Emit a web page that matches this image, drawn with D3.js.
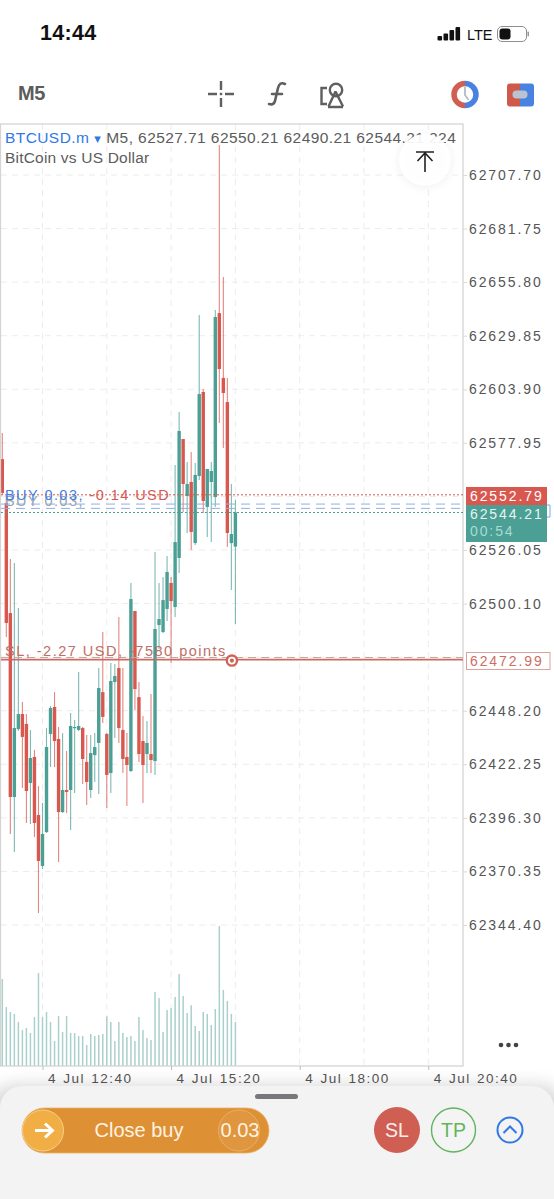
<!DOCTYPE html>
<html>
<head>
<meta charset="utf-8">
<script src="https://cdn.jsdelivr.net/npm/d3@7"></script>
<style>
html,body{margin:0;padding:0;background:#fff;overflow:hidden}
svg{display:block}
text{font-family:"Liberation Sans",Arial,sans-serif}
.num{letter-spacing:1.9px}
</style>
</head>
<body>
<div id="chart"></div>
<script>
// BTCUSD.m M5 candles, oldest first
const highs = [62582.7,62552.7,62521.7,62519.8,62497.9,62452.4,62446.6,62438.9,62429.2,62411.7,62403.5,62439.8,62450.5,62457.2,62440.3,62437.4,62428.7,62447.1,62443.7,62467.0,62440.3,62436.4,62436.4,62437.4,62468.9,62486.3,62437.4,62471.3,62470.8,62493.6,62468.9,62437.4,62510.1,62496.5,62462.1,62445.6,62443.2,62456.3,62525.1,62510.1,62513.0,62523.1,62513.0,62567.2,62592.9,62579.8,62568.7,62573.5,62568.2,62639.9,62604.0,62565.3,62568.7,62642.3,62722.2,62658.3,62609.4,62558.0,62550.21];
const lows = [62552.7,62483.9,62388.5,62379.8,62438.4,62410.8,62393.8,62393.3,62387.0,62350.2,62371.5,62389.0,62420.9,62420.9,62374.9,62398.6,62398.6,62390.4,62408.3,62438.4,62412.7,62402.5,62405.9,62413.7,62407.9,62442.3,62401.1,62408.3,62435.0,62432.6,62418.0,62402.0,62418.5,62448.5,62423.4,62403.5,62418.0,62418.0,62417.1,62478.1,62485.8,62491.6,62471.3,62493.6,62514.9,62544.5,62534.3,62526.0,62528.5,62560.0,62544.0,62532.4,62529.9,62546.9,62587.6,62575.5,62527.5,62506.7,62490.21];
const opens = [62570.1,62548.8,62495.5,62406.4,62439.3,62446.6,62441.8,62413.2,62425.8,62397.7,62373.0,62389.4,62436.9,62450.0,62434.5,62399.1,62409.8,62409.8,62439.8,62438.9,62439.8,62423.4,62409.8,62426.7,62432.6,62457.2,62436.9,62418.0,62462.1,62468.9,62438.9,62425.8,62419.0,62496.5,62454.8,62433.5,62427.2,62427.2,62423.8,62489.7,62486.3,62497.5,62510.1,62498.4,62522.2,62579.8,62552.2,62559.0,62529.4,62561.9,62602.6,62546.9,62559.0,62551.7,62640.8,62609.4,62597.7,62529.4,62527.71];
const closes = [62553.7,62490.7,62406.4,62439.8,62446.6,62435.5,62409.3,62425.3,62393.8,62375.4,62388.5,62430.6,62449.5,62433.5,62399.1,62409.8,62408.8,62440.8,62440.3,62440.8,62424.8,62413.7,62427.7,62430.6,62459.2,62445.2,62417.1,62462.6,62465.0,62439.8,62424.8,62421.9,62502.3,62458.7,62427.2,62421.9,62432.6,62424.3,62487.8,62492.6,62501.8,62515.4,62501.3,62529.9,62583.7,62558.0,62558.0,62534.8,62562.4,62601.6,62549.8,62565.3,62564.3,62638.9,62613.7,62602.1,62534.3,62533.8,62544.21];
const tickVolumes = [443,300,275,265,224,183,193,168,249,473,249,275,224,127,254,173,254,168,168,153,153,107,163,153,158,163,254,224,127,224,168,148,153,127,249,183,143,132,377,346,173,285,295,351,468,356,270,310,204,178,275,265,209,290,713,387,331,265,224];

const priceTicks = [62707.70,62681.75,62655.80,62629.85,62603.90,62577.95,62552.00,62526.05,62500.10,62474.15,62448.20,62422.25,62396.30,62370.35,62344.40];
const hiddenPriceTicks = [62552.00,62474.15];
const timeLabels = ["2024-07-04T12:40","2024-07-04T15:20","2024-07-04T18:00","2024-07-04T20:40"];
const gridTimes = ["2024-07-04T12:40","2024-07-04T14:00","2024-07-04T15:20","2024-07-04T16:40","2024-07-04T18:00","2024-07-04T19:20","2024-07-04T20:40"];
const firstBar = "2024-07-04T11:50";
const lastSlot = "2024-07-04T20:40";

const askPrice = 62552.79, bidPrice = 62544.21, stopPrice = 62472.99;
const entryPrices = [62548.3, 62546.2];

const W = 554, H = 1199;
const frame = {left: 1, right: 463, top: 124, bottom: 1066};
const RED = "#d8584f", GREEN = "#4b9f94";

const parse = d3.isoParse;
const minutes = 5 * 60000;
const barTime = i => new Date(+parse(firstBar) + i * minutes);

const x = d3.scaleTime().domain([parse(firstBar), parse(lastSlot)]).range([2.3, 428.3]);
const y = d3.scaleLinear().domain([62707.70, 62344.40]).range([175, 925]);
const yVol = d3.scaleLinear().domain([0, 713]).range([frame.bottom, 926]);

const svg = d3.select("#chart").append("svg").attr("width", W).attr("height", H).attr("viewBox", `0 0 ${W} ${H}`);
const defs = svg.append("defs");
defs.append("clipPath").attr("id", "plot").append("rect")
  .attr("x", frame.left).attr("y", frame.top)
  .attr("width", frame.right - frame.left).attr("height", frame.bottom - frame.top);
const soft = defs.append("filter").attr("id", "soft").attr("x", "-20%").attr("y", "-40%").attr("width", "140%").attr("height", "180%");
soft.append("feGaussianBlur").attr("stdDeviation", 9);
const softBtn = defs.append("filter").attr("id", "softBtn").attr("x", "-50%").attr("y", "-50%").attr("width", "200%").attr("height", "200%");
softBtn.append("feGaussianBlur").attr("stdDeviation", 5);

// Status bar
svg.append("text").attr("x", 40).attr("y", 40).attr("font-size", 21.5).attr("font-weight", 700).attr("fill", "#111").style("letter-spacing", "0.3px").text("14:44");
const signal = svg.append("g").attr("fill", "#111");
[[437.5,36,4.5],[443.5,33.5,7],[449.5,30,10.5],[455.5,27,13.5]].forEach(b =>
  signal.append("rect").attr("x", b[0]).attr("y", b[1]).attr("width", 4.6).attr("height", b[2]).attr("rx", 1));
svg.append("text").attr("x", 467).attr("y", 39.5).attr("font-size", 14.5).attr("fill", "#111").attr("font-family", "Roboto").text("LTE");
svg.append("rect").attr("x", 497.5).attr("y", 26.5).attr("width", 29).attr("height", 15).attr("rx", 4.5).attr("fill", "none").attr("stroke", "#8e8e8e");
svg.append("rect").attr("x", 499.5).attr("y", 28.5).attr("width", 11).attr("height", 11).attr("rx", 3).attr("fill", "#111");
svg.append("rect").attr("x", 527.5).attr("y", 31.5).attr("width", 1.5).attr("height", 5).attr("rx", .7).attr("fill", "#999");

// Toolbar
svg.append("text").attr("x", 18).attr("y", 100).attr("font-size", 20).attr("font-weight", 700).attr("fill", "#5c5c5c").attr("font-family", "Roboto").style("letter-spacing", "-0.3px").text("M5");
const tool = svg.append("g").attr("fill", "none").attr("stroke", "#5f5f5f").attr("stroke-width", 2.4);
tool.append("path").attr("d", "M208 94h9M225 94h9M221 81v9M221 98v9");
tool.append("path").attr("fill", "#5f5f5f").attr("stroke", "none").attr("d", "M219.8 92.8h2.4v2.4h-2.4z");
tool.append("path").attr("stroke-width", 2.6).attr("stroke-linecap", "round").attr("d", "M285 84c-4-2-6 0-7 4l-3 13c-1 3-3 4-6 3M272 94h10");
tool.append("path").attr("d", "M327 88h-5.5v16h5.5");
tool.append("circle").attr("cx", 336).attr("cy", 90).attr("r", 6.2);
tool.append("path").attr("d", "M335.5 94l-7 15M335.5 94l7.5 15M328 109.500h15").attr("transform", "translate(0,-2.5)");
// Clock and account shortcuts
svg.append("path").attr("d", "M465 83.5a11 11 0 0 0 0 22").attr("fill", "none").attr("stroke", "#cf5f50").attr("stroke-width", 5.5);
svg.append("path").attr("d", "M465 83.5a11 11 0 0 1 0 22").attr("fill", "none").attr("stroke", "#4a82e2").attr("stroke-width", 5.5);
svg.append("path").attr("d", "M465 87v8l3.5 5").attr("fill", "none").attr("stroke", "#b8c0cc").attr("stroke-width", 2);
svg.append("path").attr("d", "M507 94.5v-8a3 3 0 0 1 3-3h10v8h-3a3 3 0 0 0 0 6h3v9h-10a3 3 0 0 1-3-3z").attr("fill", "#cf5a4c");
svg.append("path").attr("d", "M520 83.5h11a3 3 0 0 1 3 3v17a3 3 0 0 1-3 3h-11v-9h3a3 3 0 0 0 0-6h-3z").attr("fill", "#4a82e2");
svg.append("rect").attr("x", 512.500).attr("y", 90.5).attr("width", 15).attr("height", 8).attr("rx", 4).attr("fill", "#b9c4d2");

// Grid
const grid = svg.append("g").attr("stroke", "#ececec").attr("stroke-width", 1).attr("stroke-dasharray", "6 5");
grid.selectAll("line.h").data(priceTicks).join("line").attr("class", "h")
  .attr("x1", frame.left).attr("x2", frame.right).attr("y1", d => y(d)).attr("y2", d => y(d));
grid.selectAll("line.v").data(gridTimes).join("line").attr("class", "v")
  .attr("x1", d => x(parse(d))).attr("x2", d => x(parse(d))).attr("y1", frame.top).attr("y2", frame.bottom);

const plot = svg.append("g").attr("clip-path", "url(#plot)");

// Tick volume
plot.append("g").selectAll("line").data(tickVolumes).join("line")
  .attr("x1", (d, i) => x(barTime(i))).attr("x2", (d, i) => x(barTime(i)))
  .attr("y1", yVol(0)).attr("y2", d => yVol(d))
  .attr("stroke", "#a9d0ca").attr("stroke-width", 1.5);

// Candles
const candles = plot.append("g").selectAll("g").data(d3.range(opens.length)).join("g");
candles.append("line")
  .attr("x1", i => x(barTime(i))).attr("x2", i => x(barTime(i)))
  .attr("y1", i => y(highs[i])).attr("y2", i => y(lows[i]))
  .attr("stroke", i => closes[i] >= opens[i] ? GREEN : RED)
  .attr("stroke-width", 1.1).attr("stroke-opacity", .72);
candles.append("rect")
  .attr("x", i => x(barTime(i)) - 1.7).attr("width", 3.4)
  .attr("y", i => y(Math.max(opens[i], closes[i])))
  .attr("height", i => Math.max(1.2, Math.abs(y(opens[i]) - y(closes[i]))))
  .attr("fill", i => closes[i] >= opens[i] ? GREEN : RED);

// Frame and axes
svg.append("rect").attr("x", .5).attr("y", frame.top).attr("width", frame.right - .5).attr("height", frame.bottom - frame.top)
  .attr("fill", "none").attr("stroke", "#d4d4d4").attr("stroke-width", 1.3);

const yAxis = svg.append("g").attr("transform", `translate(${frame.right},0)`)
  .call(d3.axisRight(y).tickValues(priceTicks.filter(v => !hiddenPriceTicks.includes(v))).tickSize(4).tickPadding(2).tickFormat(d3.format(".2f")));
yAxis.select(".domain").remove();
yAxis.selectAll("line").attr("stroke", "#d9d9d9");
yAxis.selectAll("text").attr("class", "num").attr("fill", "#555").attr("font-size", 14).attr("font-family", null);

const xAxis = svg.append("g").attr("transform", `translate(0,${frame.bottom})`)
  .call(d3.axisBottom(x).tickValues(timeLabels.map(parse)).tickSize(4).tickPadding(3).tickFormat(d3.timeFormat("%-d %b %H:%M")));
xAxis.select(".domain").remove();
xAxis.selectAll("line").attr("stroke", "#bdbdbd");
xAxis.selectAll("text").attr("text-anchor", "start").attr("dx", 5).attr("fill", "#555").attr("font-size", 13.5).attr("font-family", null).style("letter-spacing", "1.5px").style("word-spacing", "1px");

// Price levels
const level = (v, color, dash, w) => svg.append("line").attr("x1", frame.left).attr("x2", frame.right)
  .attr("y1", y(v)).attr("y2", y(v)).attr("stroke", color).attr("stroke-width", w || 1).attr("stroke-dasharray", dash);
level(askPrice, RED, "2 2");
entryPrices.forEach(v => level(v, "#8fb0e6", "9 6"));
level(bidPrice, GREEN, "2 2");
svg.append("line").attr("x1", frame.left).attr("x2", frame.right).attr("y1", y(stopPrice) - 2).attr("y2", y(stopPrice) - 2)
  .attr("stroke", "#c5a6a2").attr("stroke-dasharray", "8 5");
level(stopPrice, "#cc6a60", "none", 1.7);

// Position captions
svg.append("text").attr("x", 5).attr("y", 506).attr("font-size", 14.5).attr("fill", "#9aa3ae").style("letter-spacing", "1.45px").text("BUY 0.03,");
const pos = svg.append("text").attr("x", 5).attr("y", 500).attr("font-size", 14.5).style("letter-spacing", "1.45px");
pos.append("tspan").attr("fill", "#3f7fe3").text("BUY 0.03,");
pos.append("tspan").attr("fill", "#d8584f").text(" -0.14 USD");
svg.append("text").attr("x", 5).attr("y", 656).attr("font-size", 14.5).attr("fill", "#bd6f68").style("letter-spacing", "1.5px").text("SL, -2.27 USD, -7580 points");

// Stop-loss handle
const slx = x(barTime(58));
svg.append("circle").attr("cx", slx - 3.5).attr("cy", y(stopPrice) + 1).attr("r", 6.3).attr("fill", "#cf6256");
svg.append("circle").attr("cx", slx - 3.5).attr("cy", y(stopPrice) + 1).attr("r", 3.9).attr("fill", "#fff");
svg.append("circle").attr("cx", slx - 3.5).attr("cy", y(stopPrice) + 1).attr("r", 2.1).attr("fill", "#cf6256");

// Current price tags
svg.append("path").attr("d", "M547 505h3v12h-3").attr("fill", "none").attr("stroke", "#7ea6e6");
svg.append("rect").attr("x", 466).attr("y", 487).attr("width", 81).attr("height", 18).attr("fill", RED);
svg.append("rect").attr("x", 466).attr("y", 505).attr("width", 81).attr("height", 37).attr("fill", GREEN);
svg.append("text").attr("class", "num").attr("x", 470).attr("y", 500.5).attr("font-size", 14).attr("fill", "#fff").text(d3.format(".2f")(askPrice));
svg.append("text").attr("class", "num").attr("x", 470).attr("y", 518.5).attr("font-size", 14).attr("fill", "#e6f4f1").text(d3.format(".2f")(bidPrice));
svg.append("text").attr("class", "num").attr("x", 470).attr("y", 536).attr("font-size", 14).attr("fill", "#a8dcd2").text("00:54");
svg.append("rect").attr("x", 466.5).attr("y", 652.5).attr("width", 83.5).attr("height", 17).attr("fill", "#fff").attr("stroke", "#dba39c");
svg.append("text").attr("class", "num").attr("x", 470).attr("y", 666).attr("font-size", 14).attr("fill", "#cb6d63").text(d3.format(".2f")(stopPrice));

// Symbol header
const head = svg.append("text").attr("x", 5).attr("y", 143).attr("font-size", 15.5).attr("fill", "#5c5c5c").style("letter-spacing", "0.42px");
head.append("tspan").attr("fill", "#2f78e6").text("BTCUSD.m");
head.append("tspan").attr("fill", "#2f78e6").attr("font-size", 8.5).attr("dx", 5).attr("dy", -1.5).attr("font-family", "DejaVu Sans").text("▼");
head.append("tspan").attr("dx", 5).attr("dy", 1.5).text(`M5, ${opens[58]} ${highs[58]} ${lows[58]} ${closes[58]} ${tickVolumes[58]}`);
svg.append("text").attr("x", 5).attr("y", 163).attr("font-size", 15.5).attr("fill", "#5c5c5c").style("letter-spacing", "0.2px").text("BitCoin vs US Dollar");

// Jump-to-latest button
svg.append("circle").attr("cx", 425).attr("cy", 161).attr("r", 27).attr("fill", "#000").attr("opacity", .05).attr("filter", "url(#softBtn)");
svg.append("circle").attr("cx", 425).attr("cy", 160).attr("r", 26).attr("fill", "#fff").attr("opacity", .92);
svg.append("path").attr("d", "M416 152h18M425 172v-19M417.5 161l7.5-8 7.5 8").attr("fill", "none").attr("stroke", "#222").attr("stroke-width", 1.6);

// Overflow menu
[501, 508.5, 516].forEach(cx => svg.append("circle").attr("cx", cx).attr("cy", 1045).attr("r", 2.3).attr("fill", "#444"));

// Bottom sheet
svg.append("rect").attr("x", -10).attr("y", 1085).attr("width", W + 20).attr("height", 140).attr("rx", 24).attr("fill", "#000").attr("opacity", .16).attr("filter", "url(#soft)");
svg.append("rect").attr("x", 0).attr("y", 1086).attr("width", W).attr("height", 140).attr("rx", 22).attr("fill", "#f3f3f3");
svg.append("rect").attr("x", 255).attr("y", 1094).attr("width", 43).attr("height", 5).attr("rx", 2.5).attr("fill", "#77787b");

svg.append("rect").attr("x", 22).attr("y", 1108).attr("width", 247).attr("height", 45).attr("rx", 22.5).attr("fill", "#de9034").attr("stroke", "#eab060").attr("stroke-width", .8);
svg.append("circle").attr("cx", 43).attr("cy", 1130.5).attr("r", 20.5).attr("fill", "#f0ae45").attr("stroke", "#f7d08e");
svg.append("path").attr("d", "M35 1130.5h17M45 1123.5l7.5 7-7.5 7").attr("fill", "none").attr("stroke", "#fff").attr("stroke-width", 3);
svg.append("text").attr("x", 139).attr("y", 1137).attr("text-anchor", "middle").attr("font-size", 20).attr("fill", "#fdf3e3").text("Close buy");
svg.append("circle").attr("cx", 239).attr("cy", 1130.5).attr("r", 20.5).attr("fill", "#e0963e").attr("stroke", "#eaae68");
svg.append("text").attr("x", 240).attr("y", 1137).attr("text-anchor", "middle").attr("font-size", 20).attr("fill", "#fdf3e3").text("0.03");

svg.append("circle").attr("cx", 397).attr("cy", 1130).attr("r", 23).attr("fill", "#cf5f53");
svg.append("text").attr("x", 397).attr("y", 1137).attr("text-anchor", "middle").attr("font-size", 19.5).attr("fill", "#fdeeea").text("SL");
svg.append("circle").attr("cx", 453.5).attr("cy", 1130).attr("r", 22).attr("fill", "#f4f4f4").attr("stroke", "#62b45f").attr("stroke-width", 1.4);
svg.append("text").attr("x", 453.5).attr("y", 1137).attr("text-anchor", "middle").attr("font-size", 19.5).attr("fill", "#62b45f").text("TP");
svg.append("circle").attr("cx", 510).attr("cy", 1130).attr("r", 12.5).attr("fill", "none").attr("stroke", "#2f78e6").attr("stroke-width", 2);
svg.append("path").attr("d", "M503.5 1133l6.5-6.5 6.5 6.5").attr("fill", "none").attr("stroke", "#2f78e6").attr("stroke-width", 2);
</script>
</body>
</html>
